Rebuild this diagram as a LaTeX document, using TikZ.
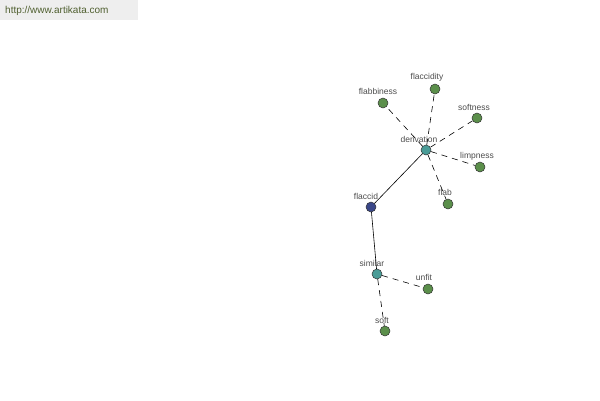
\documentclass[tikz,border=0pt]{standalone}
\usepackage{fontspec}
\setmainfont{Liberation Sans}
\usetikzlibrary{positioning}
\definecolor{leafgreen}{HTML}{5B8F4B}
\definecolor{hubteal}{HTML}{4A9C97}
\definecolor{rootblue}{HTML}{3A4788}
\definecolor{hdrgray}{HTML}{EEEEEE}
\definecolor{hdrtext}{HTML}{4F5F2F}
\tikzset{
  wnode/.style={circle,draw=black!80,line width=0.5pt,minimum size=10pt,inner sep=0pt},
  leaf/.style={wnode,fill=leafgreen},
  hub/.style={wnode,fill=hubteal},
  root/.style={wnode,fill=rootblue},
  wtext/.style={font=\fontsize{8.5}{9}\selectfont,text=black!70,inner sep=0pt},
  rel/.style={dashed,dash pattern=on 6pt off 5pt,line width=0.6pt},
  syn/.style={line width=0.6pt}
}
\begin{document}
\begin{tikzpicture}[x=1pt,y=-1pt]
\useasboundingbox (0,0) rectangle (600,400);
\fill [hdrgray] (0,0) rectangle (138,20);
\node [anchor=west,font=\fontsize{10}{11}\selectfont,text=hdrtext,inner sep=0pt] (site) at (5,11) {http://www.artikata.com};
% nodes
\node [hub]  (derivation) at (426,150) {};
\node [leaf] (flaccidity) at (435,89)  {};
\node [leaf] (flabbiness) at (383,103) {};
\node [leaf] (softness)   at (477,118) {};
\node [leaf] (limpness)   at (480,167) {};
\node [leaf] (flab)       at (448,204) {};
\node [root] (flaccid)    at (371,207) {};
\node [hub]  (similar)    at (377,274) {};
\node [leaf] (unfit)      at (428,289) {};
\node [leaf] (soft)       at (385,331) {};
% labels
\node [wtext] (derivationT) at (419,139) {derivation};
\node [wtext] (flaccidityT) at (427,77)  {flaccidity};
\node [wtext] (flabbinessT) at (378,91)  {flabbiness};
\node [wtext] (softnessT)   at (474,107) {softness};
\node [wtext] (limpnessT)   at (477,156) {limpness};
\node [wtext] (flabT)       at (445,192) {flab};
\node [wtext] (flaccidT)    at (366,196) {flaccid};
\node [wtext] (similarT)    at (372,263) {similar};
\node [wtext] (unfitT)      at (424,277) {unfit};
\node [wtext] (softT)       at (382,320) {soft};
% edges
\draw [syn] (derivation) -- (flaccid);
\draw [syn] (flaccid) -- (similar);
\foreach \t in {flaccidity,flabbiness,softness,limpness,flab}
  \draw [rel] (derivation) -- (\t);
\draw [rel] (similar) -- (unfit);
\draw [rel] (similar) -- (soft);
\end{tikzpicture}
\end{document}
